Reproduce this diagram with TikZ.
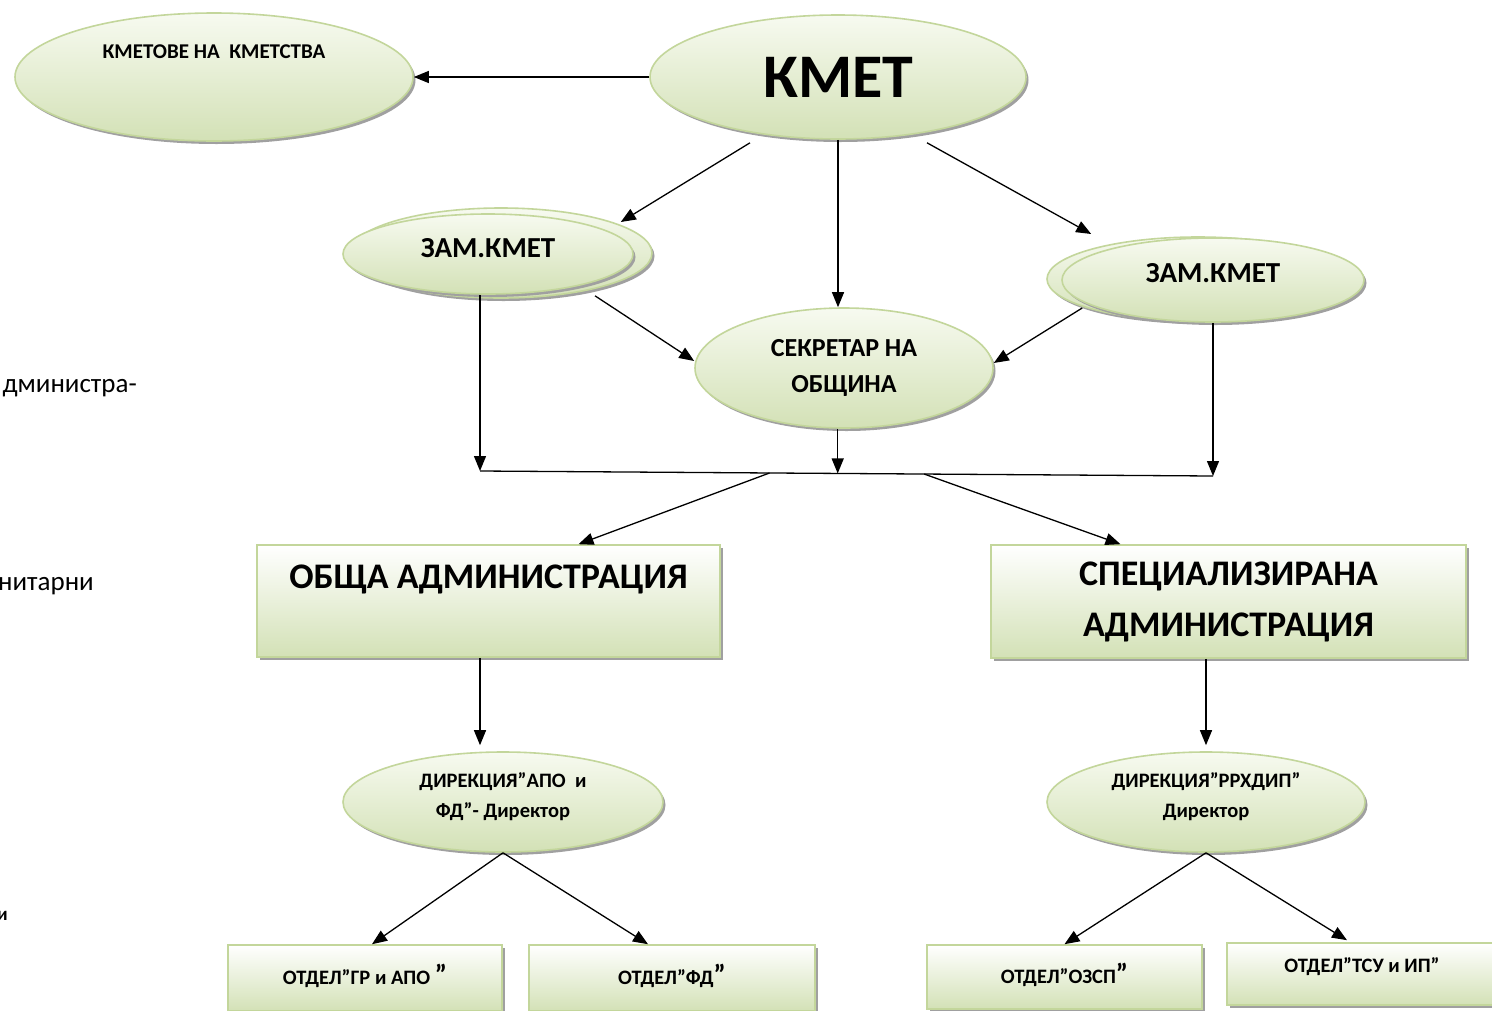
\documentclass[tikz,border=0pt]{standalone}
\usepackage{fontspec}
\setmainfont{Carlito}
\usetikzlibrary{shapes.geometric,shadows,arrows.meta,calc}
\definecolor{bord}{HTML}{C3D69B}
\definecolor{ftop}{HTML}{F7FAF0}
\definecolor{fbot}{HTML}{D3E1B6}
\definecolor{shd}{HTML}{A0A0A0}
\tikzset{
  oval/.style={ellipse, draw=bord, line width=1.6pt, top color=ftop, bottom color=fbot,
    inner sep=0pt, drop shadow={shadow xshift=2.5pt, shadow yshift=-3pt, fill=shd, opacity=1}},
  box/.style={rectangle, draw=bord, line width=1.6pt, top color=white, bottom color=fbot,
    inner sep=0pt, drop shadow={shadow xshift=3pt, shadow yshift=-3pt, fill=shd, opacity=1}},
  conn/.style={line width=1.3pt, -{Triangle[length=15pt,width=12pt]}},
  plainline/.style={line width=1.3pt},
  fs/.style={font=\fontsize{#1}{#1}\selectfont\bfseries},
  side/.style={font=\fontsize{27}{32}\selectfont, anchor=east, inner sep=0pt},
}
\begin{document}
\begin{tikzpicture}[x=1pt,y=-1pt]
\useasboundingbox[fill=white] (0,0) rectangle (1492,1010);

% side text fragments
\node[side] (s1) at (137,388) {дминистра-};
\node[side] (s2) at (94,586) {нитарни};
\node[side, font=\fontsize{19}{22}\selectfont\bfseries] (s3) at (8,916) {и};

% ellipses
\node[oval, minimum width=398pt, minimum height=128pt,
  label={[fs=21, yshift=25pt]center:КМЕТОВЕ НА\ \ КМЕТСТВА}] (kmetove) at (214,77) {};
\node[oval, minimum width=376pt, minimum height=124pt, fs=62] (kmet) at (838,77) {КМЕТ};

\node[oval, minimum width=302pt, minimum height=90pt] (zam1b) at (501,253) {};
\node[oval, minimum width=290pt, minimum height=80pt,
  label={[fs=29, yshift=6pt]center:ЗАМ.КМЕТ}] (zam1) at (488,254) {};

\node[oval, minimum width=302pt, minimum height=84pt] (zam2b) at (1198,279) {};
\node[oval, minimum width=302pt, minimum height=84pt,
  label={[fs=29, yshift=7pt]center:ЗАМ.КМЕТ}] (zam2) at (1213,280) {};

\node[oval, minimum width=298pt, minimum height=120pt, align=center,
  font=\fontsize{26}{36}\selectfont\bfseries] (sekr) at (844,368) {СЕКРЕТАР НА\\ОБЩИНА};

% rectangles
\node[box, minimum width=463pt, minimum height=112pt,
  label={[fs=36, yshift=22pt]center:ОБЩА АДМИНИСТРАЦИЯ}] (obshta) at (488.5,601) {};
\node[box, minimum width=475pt, minimum height=113pt, align=center,
  font=\fontsize{36}{51}\selectfont\bfseries] (spec) at (1228.5,601.5) {СПЕЦИАЛИЗИРАНА\\АДМИНИСТРАЦИЯ};

% directorates
\node[oval, minimum width=320pt, minimum height=100pt,
  label={[align=center, font=\fontsize{20.5}{30}\selectfont\bfseries, yshift=5pt]center:ДИРЕКЦИЯ”АПО\ \ и\\ФД”- Директор}] (dir1) at (503,802) {};
\node[oval, minimum width=318pt, minimum height=100pt,
  label={[align=center, font=\fontsize{20.5}{30}\selectfont\bfseries, yshift=5pt]center:ДИРЕКЦИЯ”РРХДИП”\\Директор}] (dir2) at (1206,802) {};

% departments
\node[box, minimum width=274pt, minimum height=66pt,
  label={[fs=20.5, yshift=2pt]center:ОТДЕЛ”ГР и АПО {\fontsize{28}{28}\selectfont ”}}] (o1) at (365,978) {};
\node[box, minimum width=286pt, minimum height=66pt,
  label={[fs=20.5, yshift=2pt]center:ОТДЕЛ”ФД{\fontsize{28}{28}\selectfont ”}}] (o2) at (672,978) {};
\node[box, minimum width=275pt, minimum height=64pt,
  label={[fs=20.5, yshift=2pt]center:ОТДЕЛ”ОЗСП{\fontsize{28}{28}\selectfont ”}}] (o3) at (1064.5,977) {};
\node[box, minimum width=270pt, minimum height=62pt,
  label={[fs=20.5, yshift=7pt]center:ОТДЕЛ”ТСУ и ИП”}] (o4) at (1362,974) {};

% bus coordinates
\coordinate (busL) at (480,471);
\coordinate (busR) at (1213,476);
\coordinate (busM) at ($(busL)!0.488!(busR)$);
\coordinate (busA) at ($(busL)!0.395!(busR)$);
\coordinate (busB) at ($(busL)!0.606!(busR)$);

% connectors
\draw[conn] (kmet.west) -- (kmetove.east);
\draw[conn] ($(kmet.south)+(-88,3)$) -- ($(zam1b.east)+(-32,-31)$);
\draw[conn] (kmet.south) -- (kmet.south |- sekr.north);
\draw[conn] ($(kmet.south)+(89,3)$) -- ($(zam2b.west)+(45,-45)$);
\draw[conn] ($(zam1.south)+(107,1)$) -- ($(sekr.west)+(0,-7)$);
\draw[conn] ($(zam2b.west)+(36,29)$) -- ($(sekr.east)+(0,-5)$);

\draw[conn] (zam1.south -| busL) -- (busL);
\draw[conn] (sekr.south -| busM) -- (busM);
\draw[conn] (zam2.south) -- (busR);
\draw[plainline] (busL) -- (busR);

\draw[conn] (busA) -- ($(obshta.north)+(90,0)$);
\draw[conn] (busB) -- ($(spec.north)+(-108,0)$);

\draw[conn] (obshta.south -| busL) -- ($(dir1.north -| busL)+(0,-6)$);
\draw[conn] (spec.south -| dir2.north) -- ($(dir2.north)+(0,-6)$);

\draw[conn] (dir1.south) -- ($(o1.north)+(7,0)$);
\draw[conn] (dir1.south) -- ($(o2.north)+(-24,0)$);
\draw[conn] (dir2.south) -- (o3.north);
\draw[conn] (dir2.south) -- ($(o4.north)+(-15,-2)$);
\end{tikzpicture}
\end{document}
